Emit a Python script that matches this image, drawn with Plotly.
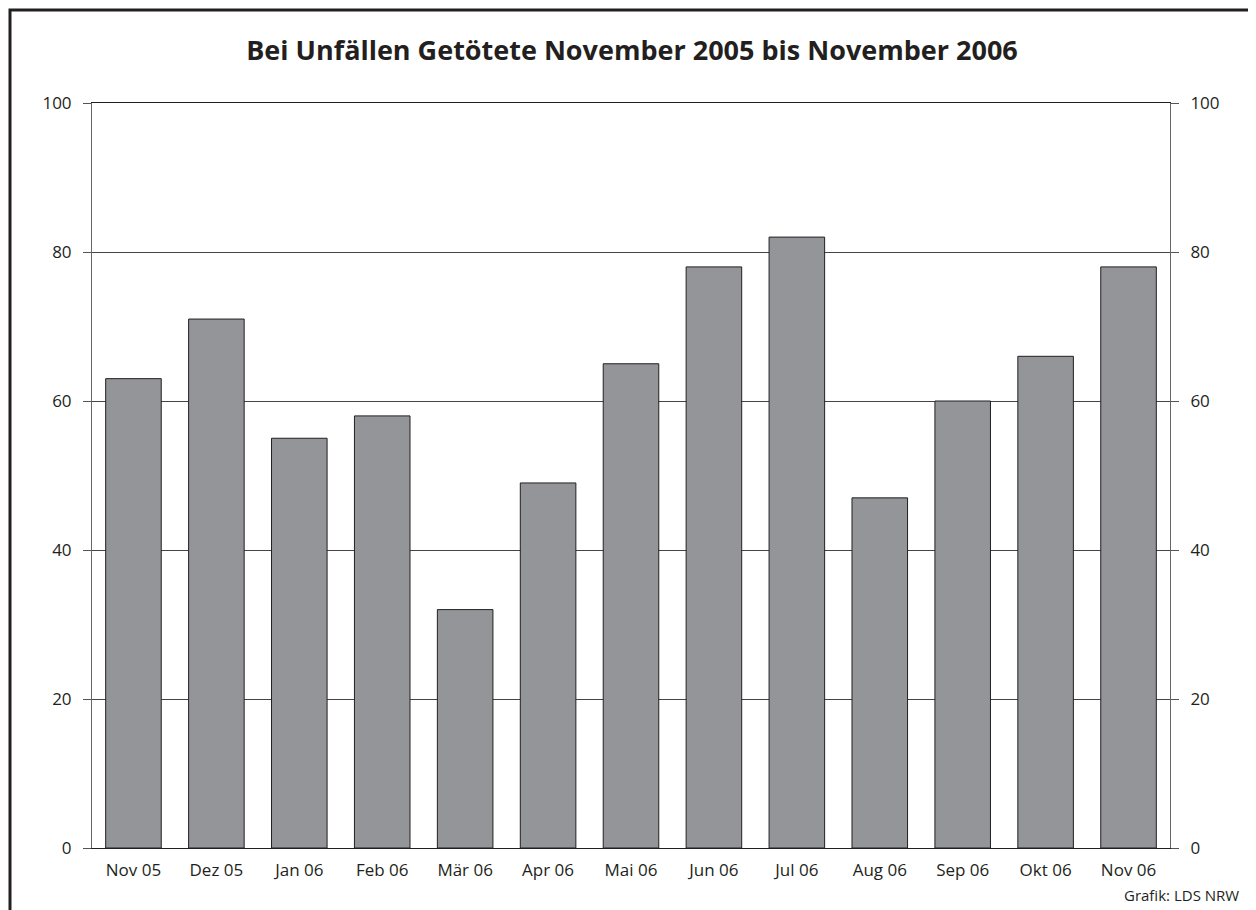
import plotly.graph_objects as go

categories = ["Nov 05", "Dez 05", "Jan 06", "Feb 06", "Mär 06", "Apr 06", "Mai 06",
              "Jun 06", "Jul 06", "Aug 06", "Sep 06", "Okt 06", "Nov 06"]
values = [63, 71, 55, 58, 32, 49, 65, 78, 82, 47, 60, 66, 78]
y_ticks = [0, 20, 40, 60, 80, 100]

W, H = 1256, 910
OFF = 8  # page body margin
# target screen positions of plot area
SL, SR, ST, SB = 92, 1170, 103, 848
L = SL - OFF
T = ST - OFF
R = W - (SR - OFF)
B = H - (SB - OFF)
pw, ph = W - L - R, H - T - B

def px(x):
    return (x - OFF - L) / pw

def py(y):
    return (H - B - (y - OFF)) / ph

font = "Open Sans, Noto Sans, sans-serif"
txt = "#231f20"

fig = go.Figure()
fig.add_trace(go.Bar(x=categories, y=values, marker=dict(color="#939598", line=dict(color="#231f20", width=1)),
                     hoverinfo="skip", showlegend=False))
fig.add_trace(go.Bar(x=categories, y=values, yaxis="y2", opacity=0, hoverinfo="skip", showlegend=False))

axis_common = dict(range=[0, 100], tickvals=y_ticks, ticks="outside", ticklen=8, tickcolor="#555555",
                   tickfont=dict(family=font, size=17, color=txt), gridcolor="#444444",
                   gridwidth=1, showline=True, linecolor="#666666", linewidth=1, zeroline=False,
                   ticklabelstandoff=8, fixedrange=True)

fig.update_layout(
    width=W, height=H,
    margin=dict(l=L, r=R, t=T, b=B),
    paper_bgcolor="white", plot_bgcolor="white",
    bargap=0.33, barmode="overlay",
    title=dict(text="<b>Bei Unfällen Getötete November 2005 bis November 2006</b>",
               font=dict(family=font, size=27, color=txt), x=(632 - OFF) / W, xanchor="center",
               y=1 - (51 - OFF) / H, yanchor="middle", yref="container"),
    xaxis=dict(showline=True, mirror=True, linecolor="#231f20", linewidth=1.2, ticks="",
               tickfont=dict(family=font, size=17, color=txt), ticklabelstandoff=6, fixedrange=True),
    yaxis=dict(**axis_common, side="left", showgrid=True),
    yaxis2=dict(**axis_common, side="right", overlaying="y", showgrid=False),
    shapes=[dict(type="rect", xref="paper", yref="paper", x0=px(10), x1=px(1250), y0=py(930), y1=py(10),
                 line=dict(color="#231f20", width=3))],
    annotations=[dict(text="Grafik: LDS NRW", xref="paper", yref="paper", x=px(1241), y=py(895),
                      xanchor="right", yanchor="middle", showarrow=False,
                      font=dict(family=font, size=15, color=txt))],
)

fig.write_html("out.html")
